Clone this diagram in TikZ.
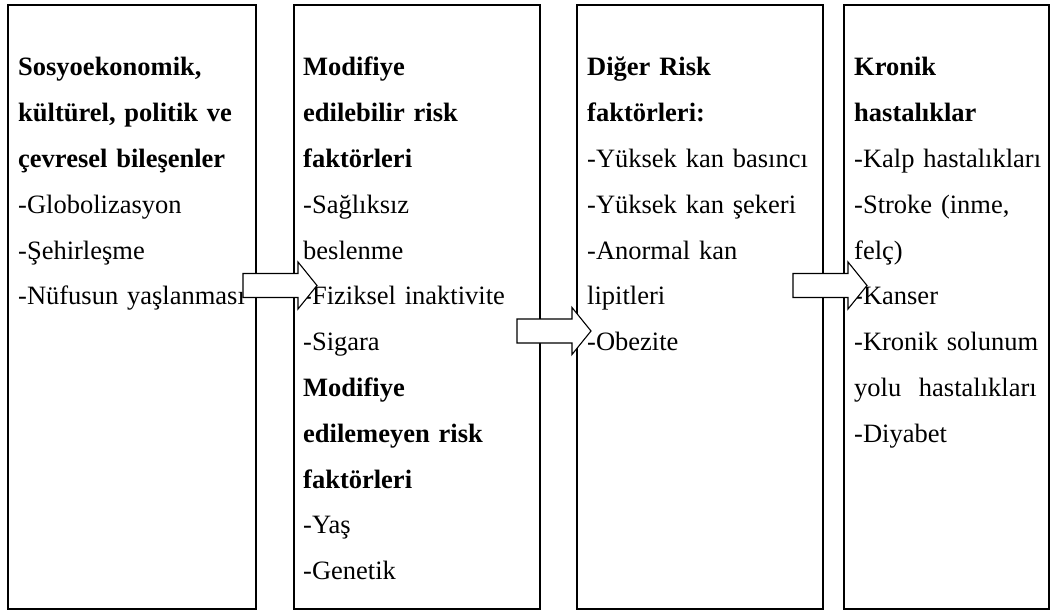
\documentclass[tikz,border=0pt]{standalone}
\usepackage{fontspec}
\setmainfont{Liberation Serif}

\begin{document}
\begin{tikzpicture}[x=1pt,y=-1pt,
    panel/.style={draw,line width=1.6pt,minimum height=604pt,inner sep=0pt},
    entry/.style={anchor=base west,inner sep=0pt,text width=270pt,align=left,
      font=\fontsize{26.5}{45.8}\selectfont},
    flow/.pic={\draw[line width=1.1pt,fill=white] (0,-12) -- (55,-12)
      -- (55,-23.5) -- (74,0) -- (55,23.5) -- (55,12) -- (0,12) -- cycle;}]

\useasboundingbox (0,0) rectangle (1051,612);

% the four panels
\node[panel,minimum width=248pt] (social) at (132,307) {};
\node[panel,minimum width=246pt] (modif) at (417,307) {};
\node[panel,minimum width=246pt] (other) at (700,307) {};
\node[panel,minimum width=205pt] (chronic) at (946.5,307) {};

% panel texts
\node[entry] (socialtext) at (18,76) {\textbf{Sosyoekonomik,}\\
  \textbf{kültürel, politik ve}\\ \textbf{çevresel bileşenler}\\
  -Globolizasyon\\ -Şehirleşme\\ -Nüfusun yaşlanması};
\node[entry] (modiftext) at (303,76) {\textbf{Modifiye}\\
  \textbf{edilebilir risk}\\ \textbf{faktörleri}\\ -Sağlıksız\\ beslenme\\
  -Fiziksel inaktivite\\ -Sigara\\ \textbf{Modifiye}\\
  \textbf{edilemeyen risk}\\ \textbf{faktörleri}\\ -Yaş\\ -Genetik};
\node[entry] (othertext) at (587,76) {\textbf{Diğer Risk}\\
  \textbf{faktörleri:}\\ -Yüksek kan basıncı\\ -Yüksek kan şekeri\\
  -Anormal kan\\ lipitleri\\ -Obezite};
\node[entry] (chronictext) at (854,76) {\textbf{Kronik}\\
  \textbf{hastalıklar}\\ -Kalp hastalıkları\\ -Stroke (inme,\\ felç)\\
  -Kanser\\ -Kronik solunum\\ yolu\ \ hastalıkları\\ -Diyabet};

% block arrows between panels
\pic (social-modif) at (243,285.5) {flow};
\pic (modif-other) at (517,331) {flow};
\pic (other-chronic) at (793,285.5) {flow};
\end{tikzpicture}
\end{document}
